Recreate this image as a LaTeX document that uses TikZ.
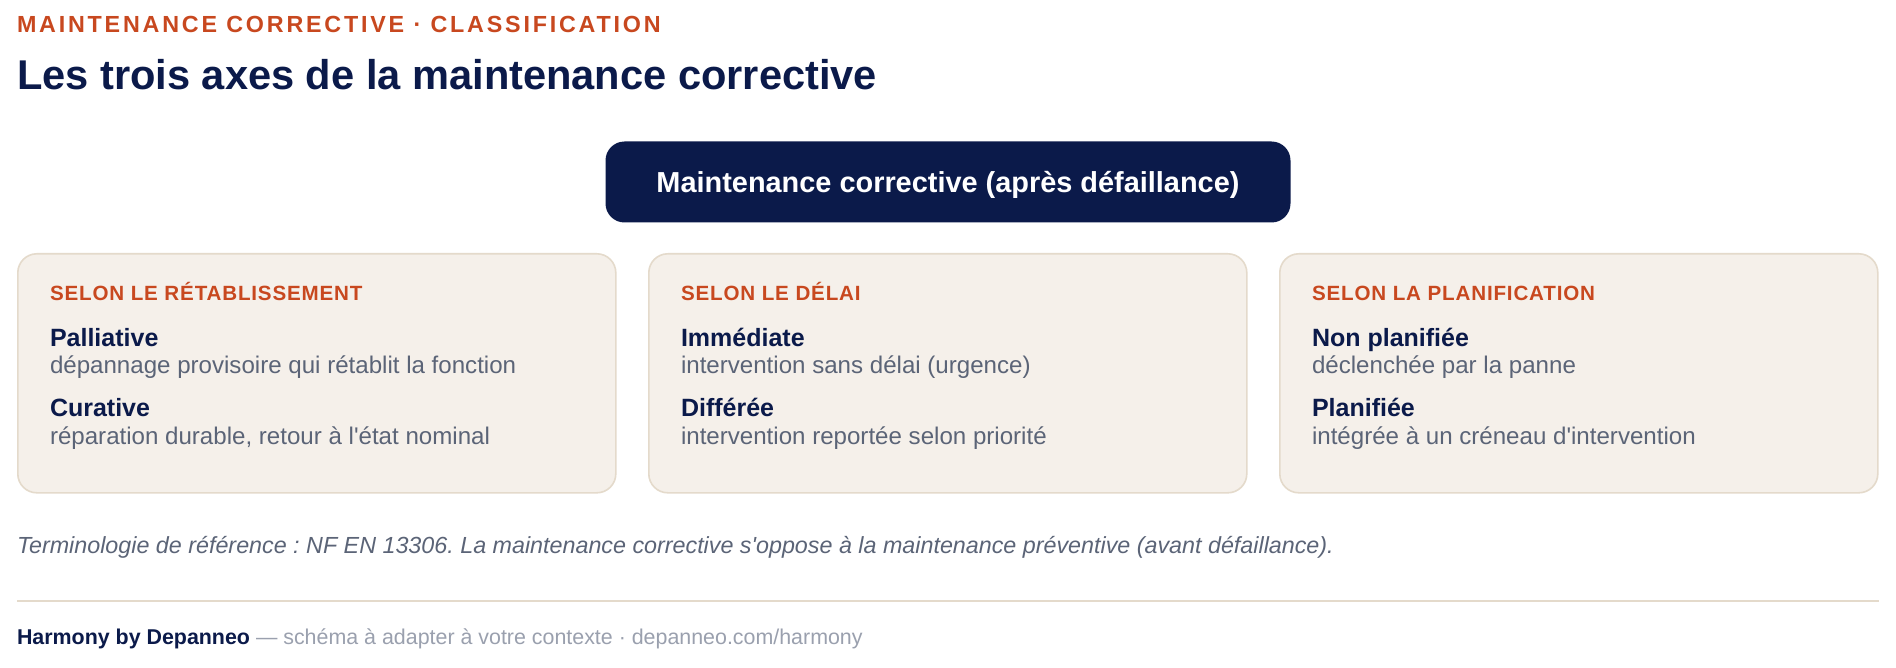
\documentclass[tikz,border=0pt]{standalone}
\usepackage{fontspec}
\setmainfont{Liberation Sans}
\newfontfamily\spacedfont{Liberation Sans}[LetterSpace=12]
\newfontfamily\headfont{Liberation Sans}[LetterSpace=4]
\usetikzlibrary{calc}
\definecolor{accent}{HTML}{C8481F}
\definecolor{navy}{HTML}{0B1A4A}
\definecolor{cardfill}{HTML}{F5F0EA}
\definecolor{cardline}{HTML}{E4DACB}
\definecolor{desc}{HTML}{5B6477}
\definecolor{foot}{HTML}{9AA0AE}
\frenchspacing
\tikzset{
  txt/.style={anchor=base west, inner sep=0pt, outer sep=0pt},
  kicker/.style={txt, text=accent, font=\spacedfont\bfseries\fontsize{23.3}{27}\selectfont},
  maintitle/.style={txt, text=navy, font=\bfseries\fontsize{41.6}{48}\selectfont},
  topbox/.style={fill=navy, rounded corners=19pt, inner sep=0pt},
  toptext/.style={anchor=base, inner sep=0pt, outer sep=0pt, text=white,
    font=\bfseries\fontsize{28.9}{34}\selectfont},
  cardbox/.style={draw=cardline, line width=1.6pt, fill=cardfill, rounded corners=19pt,
    minimum width=598pt, minimum height=239pt, anchor=north west, inner sep=0pt},
  cardhead/.style={txt, text=accent, font=\headfont\bfseries\fontsize{20.6}{24}\selectfont},
  itemname/.style={txt, text=navy, font=\bfseries\fontsize{25}{29}\selectfont},
  itemdesc/.style={txt, text=desc, font=\fontsize{24.1}{28}\selectfont},
  note/.style={txt, text=desc, font=\itshape\fontsize{23.3}{27}\selectfont},
  footer/.style={txt, text=foot, font=\fontsize{21.4}{26}\selectfont},
  rulestyle/.style={draw=cardline, line width=1.6pt}
}
\newcommand\mkcard[7]{%
  \node[cardbox] (#1) at #2 {};
  \node[cardhead] (#1h) at ($(#1.north west)+(33,48)$) {#3};
  \node[itemname] (#1a) at ($(#1.north west)+(33,93)$) {#4};
  \node[itemdesc] (#1ad) at ($(#1.north west)+(33,120.6)$) {#5};
  \node[itemname] (#1b) at ($(#1.north west)+(33,163)$) {#6};
  \node[itemdesc] (#1bd) at ($(#1.north west)+(33,191)$) {#7};
}
\begin{document}
\begin{tikzpicture}[x=1pt,y=-1pt]
\useasboundingbox[fill=white] (0,0) rectangle (1896,668);
\node[kicker] (kick) at (17,32.6) {MAINTENANCE CORRECTIVE · CLASSIFICATION};
\node[maintitle] (title) at (17,89.5) {Les trois axes de la maintenance corrective};
\node[topbox, minimum width=685pt, minimum height=81pt] (top) at (948,182) {};
\node[toptext] (toplabel) at ($(top.center)+(0,11)$) {Maintenance corrective (après défaillance)};
\mkcard{c1}{(17,253)}{SELON LE RÉTABLISSEMENT}{Palliative}{dépannage provisoire qui rétablit la fonction}{Curative}{réparation durable, retour à l\textquotesingle état nominal}
\mkcard{c2}{(648,253)}{SELON LE DÉLAI}{Immédiate}{intervention sans délai (urgence)}{Différée}{intervention reportée selon priorité}
\mkcard{c3}{(1279,253)}{SELON LA PLANIFICATION}{Non planifiée}{déclenchée par la panne}{Planifiée}{intégrée à un créneau d\textquotesingle intervention}
\node[note] (noteline) at (17,553.8) {Terminologie de référence : NF EN 13306. La maintenance corrective s\textquotesingle oppose à la maintenance préventive (avant défaillance).};
\coordinate (rl) at (17,601);
\coordinate (rr) at (1879,601);
\draw[rulestyle] (rl) -- (rr);
\node[footer] (foot) at (17,644.5) {\textcolor{navy}{\bfseries Harmony by Depanneo} — schéma à adapter à votre contexte · depanneo.com/harmony};
\end{tikzpicture}
\end{document}
